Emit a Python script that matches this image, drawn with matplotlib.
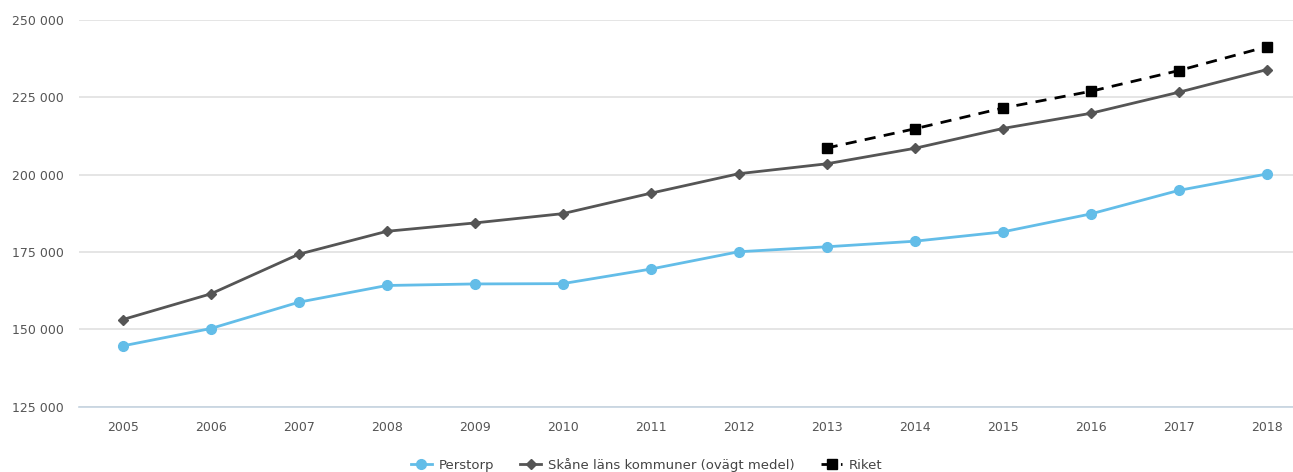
import numpy as np
from matplotlib import pyplot as plt
from matplotlib.ticker import FuncFormatter

years = [2005, 2006, 2007, 2008, 2009, 2010, 2011, 2012, 2013, 2014, 2015, 2016, 2017, 2018]

# medelinkomst per kommun (kr)
perstorp = [144700, 150300, 158800, 164200, 164700, 164800, 169500, 175100,
            176700, 178500, 181500, 187300, 194900, 200200]
skane = [153200, 161500, 174300, 181700, 184400, 187400, 194000, 200300,
         203500, 208500, 214900, 219800, 226600, 233900]
riket = [np.nan] * 8 + [208600, 214800, 221500, 226900, 233600, 241300]

fig = plt.figure(figsize=(12.93, 4.72), dpi=100)
ax = fig.add_axes([0.061, 0.138, 0.939, 0.82])

x = np.arange(len(years))
ax.plot(x, perstorp, '-o', color='#63bde8', lw=2, ms=7, label='Perstorp', zorder=3)
ax.plot(x, skane, '-D', color='#555555', lw=2, ms=5, label='Skåne läns kommuner (ovägt medel)', zorder=3)
ax.plot(x, riket, '--s', color='black', lw=2, ms=7, dashes=(4, 3), label='Riket', zorder=4)

ax.set_xlim(-0.5, 13.3)
ax.set_ylim(125000, 250000)
ax.set_yticks(np.arange(125000, 250001, 25000))
ax.yaxis.set_major_formatter(FuncFormatter(lambda v, p: f'{int(v):,}'.replace(',', ' ')))
ax.set_xticks(x)
ax.set_xticklabels([str(y) for y in years])

ax.grid(axis='y', color='#e0e0e0', lw=1.2)
ax.set_axisbelow(True)
for s in ['top', 'right', 'left']:
    ax.spines[s].set_visible(False)
ax.spines['bottom'].set_color('#c5d3e0')
ax.spines['bottom'].set_linewidth(1.2)
ax.tick_params(length=0, colors='#555555', labelsize=9, pad=10)
ax.tick_params(axis='y', pad=11)

fig.legend(loc='lower center', bbox_to_anchor=(0.5, -0.025), ncol=3, frameon=False,
           fontsize=9.5, handlelength=1.6, handletextpad=0.5, columnspacing=2.0,
           labelcolor='#444444')

fig.savefig('out.png', dpi=100)
